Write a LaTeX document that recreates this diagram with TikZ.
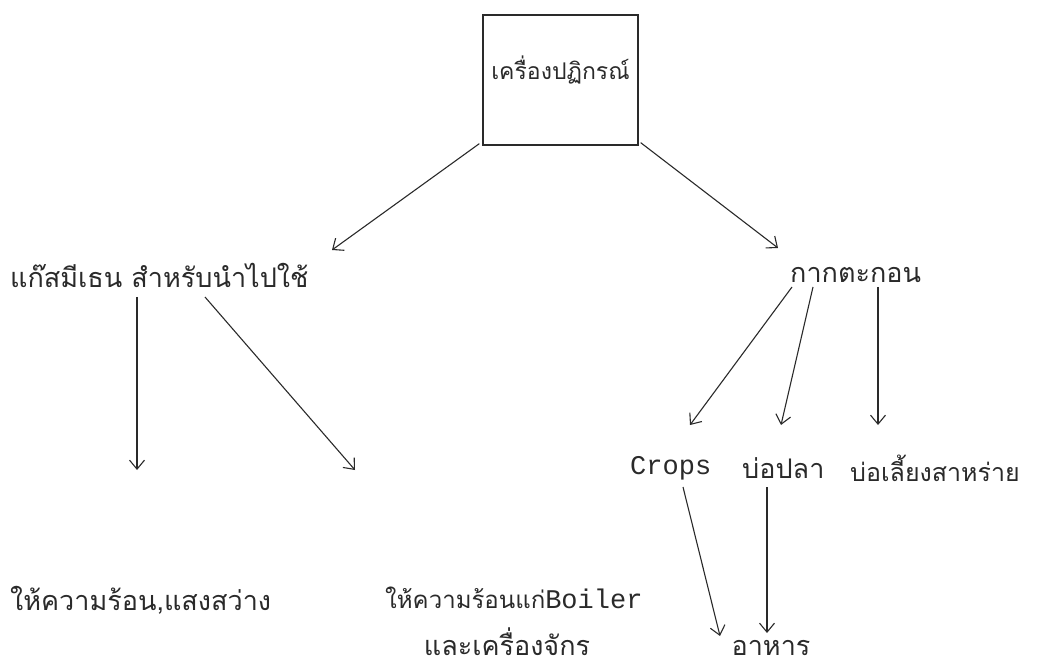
\documentclass[tikz,border=0pt]{standalone}
\usepackage{fontspec}
\setmainfont{Liberation Mono}
\newfontfamily\thai[Script=Thai]{Loma}
\usetikzlibrary{arrows.meta}
\definecolor{ink}{HTML}{2A2A2A}
\begin{document}
\begin{tikzpicture}[x=1pt,y=-1pt,
  lbl/.style={inner sep=0pt,anchor=west,text=ink,font=\fontsize{27}{30}\selectfont},
  arr/.style={draw=ink,line width=1.1pt,-{Straight Barb[length=9pt,width=15pt]}}]
\useasboundingbox (0,0) rectangle (1047,668);
\node[draw=ink,line width=1.3pt,minimum width=155pt,minimum height=130pt,inner sep=0pt,
  text depth=24pt,text=ink,font=\fontsize{23}{26}\selectfont] (reactor) at (560.5,80) {\thai เครื่องปฏิกรณ์};
\node[lbl] (gas) at (10,275) {\thai แก๊สมีเธน สำหรับนำไปใช้};
\node[lbl] (sludge) at (790,275) {\thai กากตะกอน};
\node[lbl] (crops) at (630,468) {Crops};
\node[lbl] (fish) at (742,468) {\thai บ่อปลา};
\node[lbl,font=\fontsize{25}{28}\selectfont] (algae) at (850,468) {\thai บ่อเลี้ยงสาหร่าย};
\node[lbl] (heat) at (10,600) {\thai ให้ความร้อน,แสงสว่าง};
\node[lbl] (boiler) at (385,598) {{\thai\fontsize{24}{28}\selectfont ให้ความร้อนแก่}Boiler};
\node[lbl,anchor=center] (machine) at (507,642) {\thai และเครื่องจักร};
\node[lbl,anchor=center] (food) at (771,648) {\thai อาหาร};
\draw[arr] ([shift={(-3,-2)}]reactor.south west) -- ([shift={(322,-25)}]gas.west);
\draw[arr] ([shift={(2,-3)}]reactor.south east) -- ([shift={(-12,-27)}]sludge.west);
\draw[arr] ([shift={(127,22)}]gas.west) -- ([shift={(127,-130)}]heat.west);
\draw[arr] ([shift={(195,22)}]gas.west) -- ([shift={(-30,-128)}]boiler.west);
\draw[arr] ([shift={(2,12)}]sludge.west) -- ([shift={(60,-43)}]crops.west);
\draw[arr] ([shift={(23,12)}]sludge.west) -- ([shift={(39,-43)}]fish.west);
\draw[arr] ([shift={(88,12)}]sludge.west) -- ([shift={(28,-43)}]algae.west);
\draw[arr] ([shift={(53,19)}]crops.west) -- ([shift={(-51,-12)}]food.center);
\draw[arr] ([shift={(25,19)}]fish.west) -- ([shift={(-4,-15)}]food.center);
\end{tikzpicture}
\end{document}
